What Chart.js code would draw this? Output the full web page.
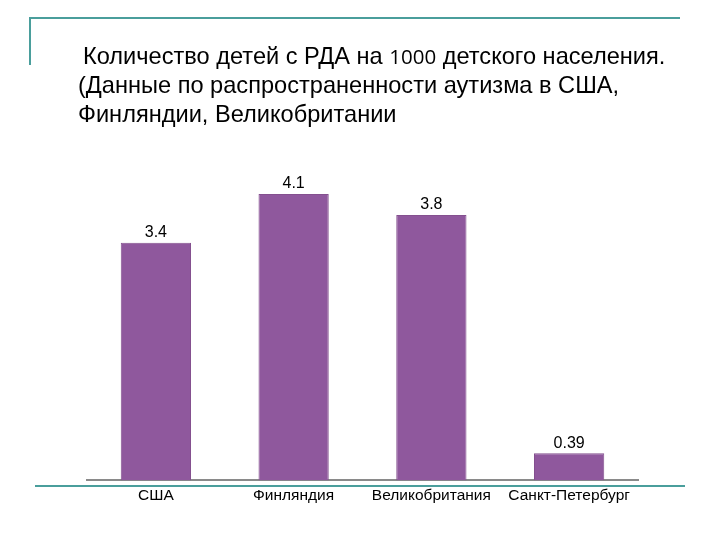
<!DOCTYPE html>
<html>
<head>
<meta charset="utf-8">
<script src="https://cdn.jsdelivr.net/npm/chart.js@4"></script>
<style>
  body { margin: 0; background: #fff; }
  #wrap { position: relative; width: 720px; height: 540px; }
  #myChart { position: absolute; left: 0; top: 0; }
  .line { position: absolute; background: #4a9e9c; }
  .title { position: absolute; font-family: "Liberation Sans", Arial, sans-serif; font-size: 23.6px; color: #000; white-space: nowrap; }
  .num { font-family: "Open Sans", sans-serif; font-size: 20.5px; }
</style>
</head>
<body>
<div id="wrap">
  <canvas id="myChart" width="720" height="540"></canvas>
  <div class="line" style="left:30px;top:17px;width:650px;height:2px"></div>
  <div class="line" style="left:29px;top:17px;width:2px;height:48px"></div>
  <div class="line" style="left:35px;top:485px;width:650px;height:2px"></div>
  <div class="title" style="left:83px;top:42px">Количество детей с РДА на <span class="num">1000</span> детского населения.</div>
  <div class="title" style="left:78px;top:72px">(Данные по распространенности аутизма в США,</div>
  <div class="title" style="left:78px;top:101px">Финляндии, Великобритании</div>
</div>
<script>
const ctx = document.getElementById('myChart');

// data
let regions = ['США', 'Финляндия', 'Великобритания', 'Санкт-Петербург']
let rates = [3.4, 4.1, 3.8, 0.39]

// draws the value above each bar
const valueLabels = {
  id: 'valueLabels',
  afterDatasetsDraw(chart) {
    const c = chart.ctx
    const meta = chart.getDatasetMeta(0)
    c.save()
    c.font = '16px "Liberation Sans", Arial, sans-serif'
    c.fillStyle = '#000'
    c.textAlign = 'center'
    c.textBaseline = 'bottom'
    meta.data.forEach((bar, i) => {
      c.fillText(`${rates[i]}`, bar.x, bar.y - 2)
    })
    c.restore()
  }
}

new Chart(ctx, {
  type: 'bar',
  data: {
    labels: regions,
    datasets: [{
      data: rates,
      backgroundColor: '#8f589d',
      borderColor: '#84508f',
      borderWidth: 1,
      barPercentage: 0.51,
      categoryPercentage: 1
    }]
  },
  options: {
    responsive: false,
    animation: false,
    layout: {
      padding: { left: 87, right: 82, top: 159, bottom: 29 }
    },
    scales: {
      x: {
        grid: { display: false, drawTicks: false },
        border: { color: '#8a8a8a', width: 2 },
        ticks: {
          color: '#000',
          padding: 6,
          maxRotation: 0,
          font: { family: '"Liberation Sans", Arial, sans-serif', size: 15.5 }
        }
      },
      y: {
        display: false,
        min: 0,
        max: 4.6
      }
    },
    plugins: {
      legend: { display: false },
      tooltip: { enabled: false }
    }
  },
  plugins: [valueLabels]
});
</script>
</body>
</html>
